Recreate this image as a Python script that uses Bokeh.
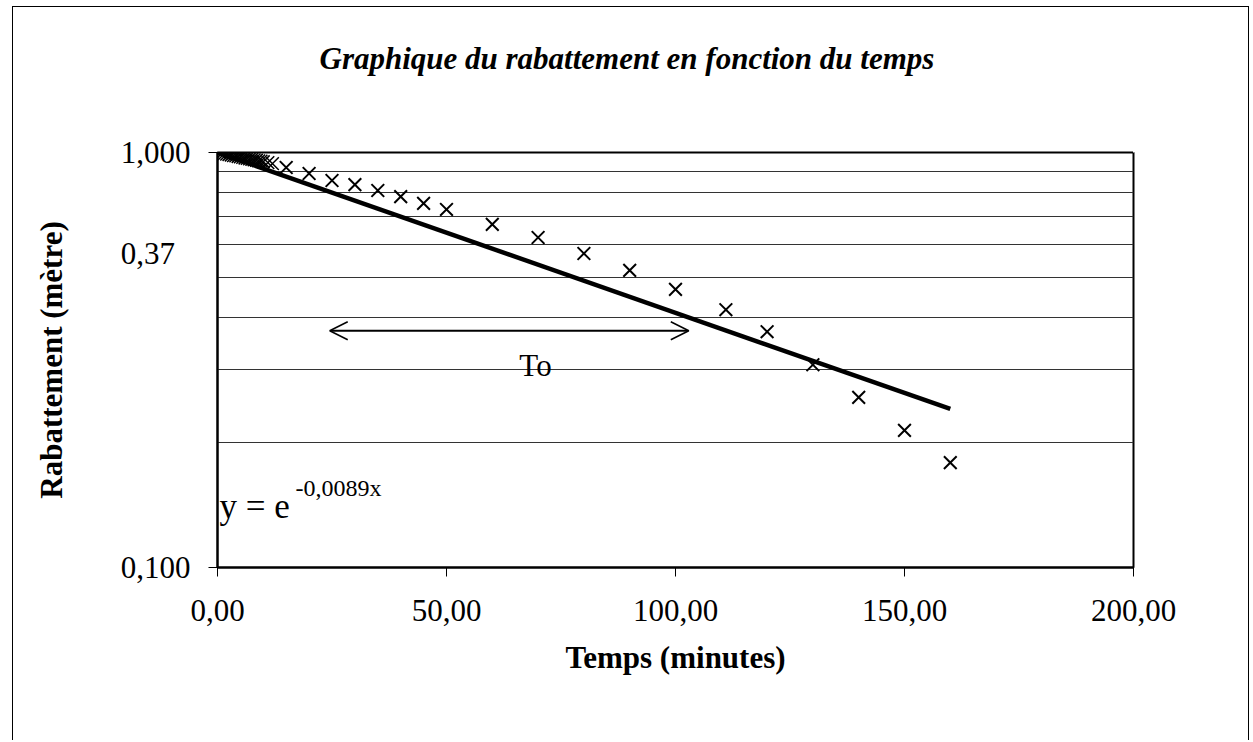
import math
from bokeh.plotting import figure
from bokeh.models import (Range1d, FixedTicker, Label, Arrow, OpenHead, LinearAxis)
from bokeh.embed import file_html
from bokeh.resources import INLINE

# ---------------- data ----------------
# early, densely sampled readings (minutes, metres)
early_t = [0.5, 1, 1.5, 2, 2.5, 3, 3.5, 4, 4.5, 5, 5.5, 6, 6.5, 7, 7.5, 8, 8.5, 9, 9.5, 10, 11, 12]
early_s = [1.000, 0.997, 0.994, 0.991, 0.989, 0.986, 0.983, 0.981, 0.978, 0.976, 0.973,
           0.970, 0.968, 0.965, 0.963, 0.960, 0.958, 0.955, 0.953, 0.950, 0.945, 0.940]
# later readings
late_t = [15, 20, 25, 30, 35, 40, 45, 50, 60, 70, 80, 90, 100, 111, 120, 130, 140, 150, 160]
late_s = [0.920, 0.890, 0.856, 0.837, 0.810, 0.783, 0.754, 0.729, 0.671, 0.624, 0.571,
          0.520, 0.468, 0.418, 0.370, 0.308, 0.257, 0.214, 0.179]
# exponential trend y = e^(-0.0089 x), end points
trend_t = [0, 160]
trend_s = [1.0, 0.241]

x_ticks = [0, 50, 100, 150, 200]
x_tick_labels = ["0,00", "50,00", "100,00", "150,00", "200,00"]
y_ticks = [0.1, 0.571, 1.0]
y_tick_labels = ["0,100", "0,37\u00a0\u00a0", "1,000"]
y_tick_marks = [0.1, 1.0]
y_grid = [0.2, 0.3, 0.4, 0.5, 0.6, 0.7, 0.8, 0.9]

title_text = "Graphique du rabattement en fonction du temps"
xlabel_text = "Temps (minutes)"
ylabel_text = "Rabattement (mètre)"
eq_main = "y = e"
eq_sup = "-0,0089x"
to_text = "To"

# ---------------- layout ----------------
W, H = 1252, 740
FL, FR, FT, FB = 217, 1133, 152, 567  # frame in page px
SERIF = "Liberation Serif"

p = figure(width=W, height=H, output_backend="svg", toolbar_location=None,
           x_range=Range1d(0, 200), y_range=Range1d(0.1, 1.0), y_axis_type="log",
           min_border_left=FL, min_border_right=W - FR,
           min_border_top=FT, min_border_bottom=H - FB,
           title=title_text)
p.background_fill_color = "white"
p.border_fill_color = None
p.outline_line_color = "black"
p.outline_line_width = 2
# outer chart border (left, top, right edges)
p.styles = {"background-color": "white",
            "box-shadow": ("inset 12px 0 0 0 #fff, inset 0 6px 0 0 #fff, inset -3px 0 0 0 #fff, "
                           "inset 13px 0 0 0 #000, inset 0 7px 0 0 #000, inset -4px 0 0 0 #000")}

xa = p.below[0]
ya = p.left[0]

# blank spacer axis above the frame, so that the title sits higher
spacer = LinearAxis(ticker=FixedTicker(ticks=[200]), axis_line_color=None,
                    major_tick_line_color="white", major_tick_line_width=1,
                    minor_tick_line_color=None,
                    major_label_text_font_size="0px", major_label_text_color="white",
                    major_label_overrides={200: ""},
                    major_tick_out=72, major_tick_in=0, minor_tick_out=0,
                    major_label_standoff=0)
p.add_layout(spacer, "above")

p.title.text_font = SERIF
p.title.text_font_size = "31px"
p.title.text_font_style = "bold italic"
p.title.text_color = "black"
p.title.align = "left"
p.title.offset = 102
p.title.standoff = 10
p.title.vertical_align = "bottom"


def tx(px):
    return (px - FL) / (FR - FL) * 200.0


def sy(py):
    return 10 ** (-(py - FT) / (FB - FT))


# axes
for ax in (xa, ya):
    ax.axis_line_color = "black"
    ax.axis_line_width = 2
    ax.major_tick_line_color = "black"
    ax.major_tick_line_width = 1
    ax.major_tick_in = 0
    ax.major_tick_out = 9
    ax.minor_tick_line_color = None
    ax.major_label_text_font = SERIF
    ax.major_label_text_font_size = "31px"
    ax.major_label_text_color = "black"
    ax.axis_label_text_font = SERIF
    ax.axis_label_text_font_size = "31px"
    ax.axis_label_text_font_style = "bold"
    ax.axis_label_text_color = "black"

xa.ticker = FixedTicker(ticks=x_ticks)
xa.major_label_overrides = {t: l for t, l in zip(x_ticks, x_tick_labels)}
xa.major_label_standoff = 23
xa.axis_label = xlabel_text
xa.axis_label_standoff = 16

ya.ticker = FixedTicker(ticks=y_ticks, minor_ticks=y_tick_marks)
ya.major_label_overrides = {t: l for t, l in zip(y_ticks, y_tick_labels)}
ya.major_tick_out = 0
ya.minor_tick_out = 9
ya.minor_tick_in = 0
ya.minor_tick_line_color = "black"
ya.minor_tick_line_width = 1
ya.major_label_standoff = 18
ya.axis_label = ylabel_text
ya.axis_label_standoff = 49

p.xgrid.grid_line_color = None
p.ygrid.ticker = FixedTicker(ticks=y_grid)
p.ygrid.grid_line_color = "#333333"
p.ygrid.grid_line_width = 1

# marks
p.line(trend_t, trend_s, line_color="black", line_width=4.5)
p.scatter(early_t, early_s, marker="x", size=18, line_color="black", line_width=1.5)
p.scatter(late_t, late_s, marker="x", size=18, line_color="black", line_width=2)

# arrow for To
p.add_layout(Arrow(start=OpenHead(size=18, line_width=1.5, line_color="black"),
                   end=OpenHead(size=18, line_width=1.5, line_color="black"),
                   x_start=24.5, y_start=0.372, x_end=102.9, y_end=0.372,
                   line_color="black", line_width=2))

labels = [
    dict(x=tx(535), y=sy(365), text=to_text, text_font_size="31px",
         text_align="center", text_baseline="alphabetic"),
    dict(x=tx(219), y=sy(506), text=eq_main, text_font_size="35px",
         text_align="left", text_baseline="alphabetic"),
    dict(x=tx(295), y=sy(487), text=eq_sup, text_font_size="24px",
         text_align="left", text_baseline="alphabetic"),
]
for kw in labels:
    p.add_layout(Label(text_font=SERIF, text_color="black", **kw))

open("out.html", "w").write(file_html(p, INLINE))
